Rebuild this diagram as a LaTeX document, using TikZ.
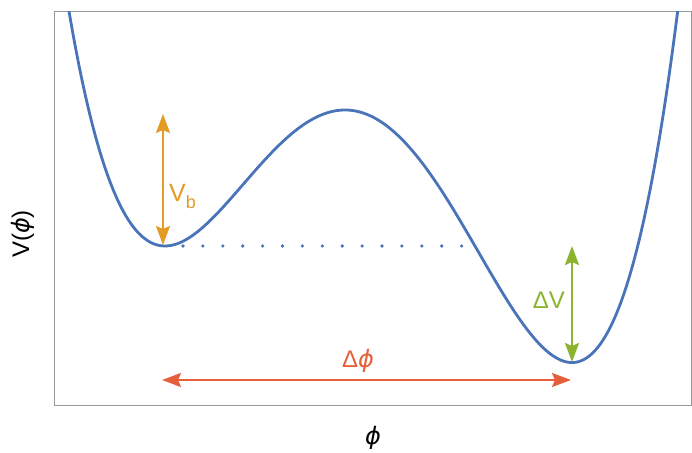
\documentclass[tikz,border=0pt]{standalone}
\usepackage{fontspec}
\setmainfont{Liberation Sans}
\newfontfamily\phifont{DejaVu Sans}
\newcommand{\myphi}{{\phifont\itshape ϕ}}
\usetikzlibrary{arrows.meta}
\definecolor{curveblue}{HTML}{4A74B9}
\definecolor{vbor}{HTML}{E39B25}
\definecolor{dvgreen}{HTML}{8AB32E}
\definecolor{dphred}{HTML}{E5603A}
\definecolor{framegray}{HTML}{999999}
\tikzset{
  dbl/.style={line width=2.2pt, {Stealth[length=19pt,width=14pt,inset=3pt]}-{Stealth[length=19pt,width=14pt,inset=3pt]}},
  lbl/.style={font=\fontsize{24}{28}\selectfont, inner sep=0pt},
}
\begin{document}
\begin{tikzpicture}[x=1pt,y=-1pt]
\useasboundingbox (0,0) rectangle (692,452);
\draw[framegray, line width=1pt] (54,12) rectangle (691,405);
\begin{scope}
\clip (54,12) rectangle (691,405);
\draw[curveblue, line width=2.8pt, line join=round] plot[domain=-1.05:5.25, samples=250, smooth]
  ({165+100*\x}, {246 - 44.14*(\x*\x*\x*\x/4 - 1.95667*\x*\x*\x + 3.663*\x*\x)});
\end{scope}
\coordinate (dotA) at (183,246);
\coordinate (dotB) at (462,246);
\draw[curveblue, line width=3.6pt, line cap=round, dash pattern=on 0pt off 19.9pt] (dotA) -- (dotB);
% V_b
\coordinate (vbT) at (163,114);
\coordinate (vbB) at (163,245);
\draw[vbor, dbl] (vbB) -- (vbT);
\node[lbl, text=vbor, anchor=base west] (vb) at (169,201) {\fontsize{25}{28}\selectfont V\raisebox{-7pt}{\fontsize{18}{20}\selectfont b}};
% Delta V
\coordinate (dvT) at (572,246);
\coordinate (dvB) at (572,362);
\draw[dvgreen, dbl] (dvB) -- (dvT);
\node[lbl, text=dvgreen, anchor=base east] (dv) at (565,308) {ΔV};
% Delta phi
\coordinate (dpL) at (162,380);
\coordinate (dpR) at (571,380);
\draw[dphred, dbl] (dpL) -- (dpR);
\node[lbl, text=dphred, anchor=base] (dp) at (358,367) {Δ\myphi};
% axis labels
\node[lbl, anchor=base] (xl) at (373,444) {\myphi};
\node[lbl, rotate=90, anchor=base] (yl) at (29,234) {V(\myphi)};
\end{tikzpicture}
\end{document}
